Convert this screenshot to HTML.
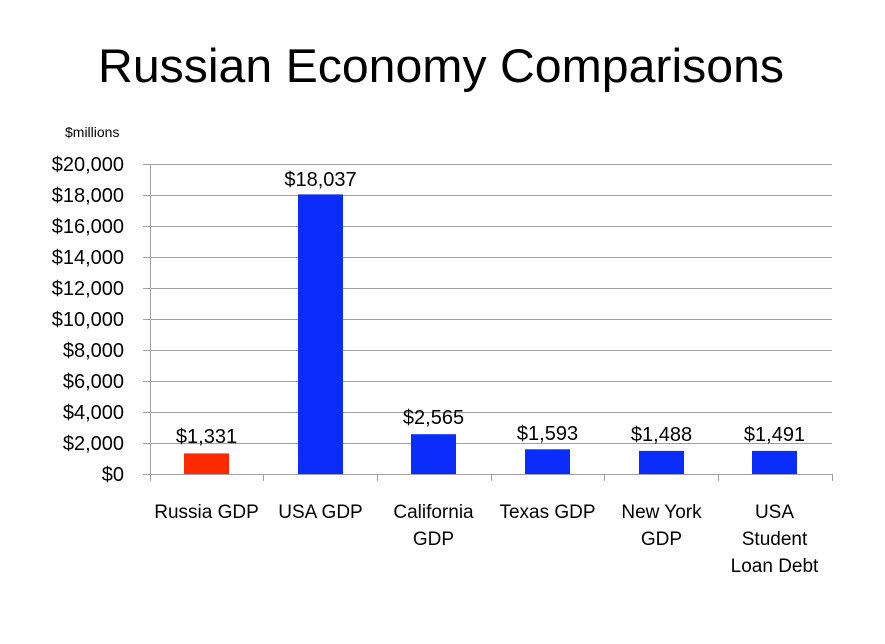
<!DOCTYPE html>
<html><head><meta charset="utf-8"><style>
html,body{margin:0;padding:0;background:#fff;}
svg{display:block;}
text{font-family:"Liberation Sans",sans-serif;fill:#000;}
</style></head><body>
<svg width="885" height="644" viewBox="0 0 885 644" xmlns="http://www.w3.org/2000/svg">
<text x="441" y="82" text-anchor="middle" font-size="47" textLength="686" lengthAdjust="spacingAndGlyphs">Russian Economy Comparisons</text>
<text x="65" y="137" font-size="14">$millions</text>
<g stroke="#a0a0a0" stroke-width="1">
<line x1="143" y1="164.5" x2="832" y2="164.5"/>
<line x1="143" y1="195.5" x2="832" y2="195.5"/>
<line x1="143" y1="226.5" x2="832" y2="226.5"/>
<line x1="143" y1="257.5" x2="832" y2="257.5"/>
<line x1="143" y1="288.5" x2="832" y2="288.5"/>
<line x1="143" y1="319.5" x2="832" y2="319.5"/>
<line x1="143" y1="350.5" x2="832" y2="350.5"/>
<line x1="143" y1="381.5" x2="832" y2="381.5"/>
<line x1="143" y1="412.5" x2="832" y2="412.5"/>
<line x1="143" y1="443.5" x2="832" y2="443.5"/>
<line x1="143" y1="474.5" x2="832" y2="474.5"/>
<line x1="150.5" y1="164" x2="150.5" y2="481"/>
<line x1="263.5" y1="474" x2="263.5" y2="481"/>
<line x1="377.5" y1="474" x2="377.5" y2="481"/>
<line x1="491.5" y1="474" x2="491.5" y2="481"/>
<line x1="604.5" y1="474" x2="604.5" y2="481"/>
<line x1="718.5" y1="474" x2="718.5" y2="481"/>
<line x1="832.5" y1="474" x2="832.5" y2="481"/>
</g>
<g font-size="20" text-anchor="end">
<text x="124" y="171">$20,000</text>
<text x="124" y="202">$18,000</text>
<text x="124" y="233">$16,000</text>
<text x="124" y="264">$14,000</text>
<text x="124" y="295">$12,000</text>
<text x="124" y="326">$10,000</text>
<text x="124" y="357">$8,000</text>
<text x="124" y="388">$6,000</text>
<text x="124" y="419">$4,000</text>
<text x="124" y="450">$2,000</text>
<text x="124" y="481">$0</text>
</g>
<rect x="184" y="453.4" width="45" height="20.6" fill="#fe2a00"/>
<rect x="298" y="194.4" width="45" height="279.6" fill="#0a2dfc"/>
<rect x="411" y="434.2" width="45" height="39.8" fill="#0a2dfc"/>
<rect x="525" y="449.3" width="45" height="24.7" fill="#0a2dfc"/>
<rect x="639" y="450.9" width="45" height="23.1" fill="#0a2dfc"/>
<rect x="752" y="450.9" width="45" height="23.1" fill="#0a2dfc"/>
<g font-size="20" text-anchor="middle">
<text x="206.5" y="443">$1,331</text>
<text x="320.5" y="186">$18,037</text>
<text x="433.5" y="424">$2,565</text>
<text x="547.5" y="440">$1,593</text>
<text x="661.5" y="441">$1,488</text>
<text x="774.5" y="441">$1,491</text>
</g>
<g font-size="19" text-anchor="middle">
<text x="206.5" y="518">Russia GDP</text>
<text x="320.5" y="518">USA GDP</text>
<text x="433.5" y="518">California</text>
<text x="433.5" y="545">GDP</text>
<text x="547.5" y="518">Texas GDP</text>
<text x="661.5" y="518">New York</text>
<text x="661.5" y="545">GDP</text>
<text x="774.5" y="518">USA</text>
<text x="774.5" y="545">Student</text>
<text x="774.5" y="572">Loan Debt</text>
</g>
</svg>
</body></html>
